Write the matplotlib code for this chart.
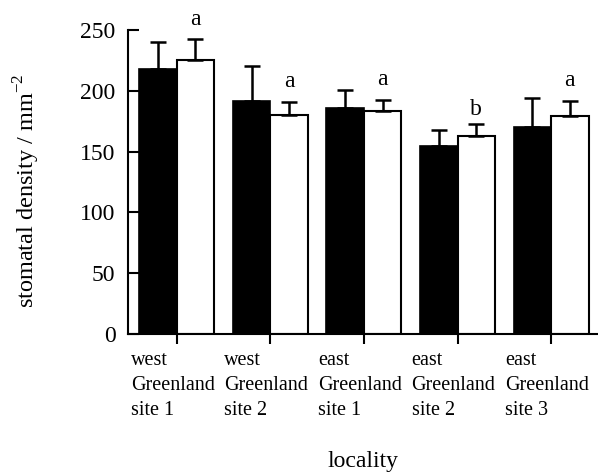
import matplotlib
matplotlib.use("Agg")
import matplotlib.pyplot as plt
import numpy as np
from matplotlib.transforms import ScaledTranslation

plt.rcParams['font.family'] = ['Liberation Serif', 'DejaVu Serif']
plt.rcParams['mathtext.fontset'] = 'custom'
plt.rcParams['mathtext.rm'] = 'Liberation Serif'

categories = ["west\nGreenland\nsite 1", "west\nGreenland\nsite 2",
              "east\nGreenland\nsite 1", "east\nGreenland\nsite 2",
              "east\nGreenland\nsite 3"]
black_vals = [218, 192, 186, 155, 170]
black_err = [22, 28, 15, 13, 24]
white_vals = [225, 180, 183, 163, 179]
white_err = [17.5, 11, 9.5, 10, 13]
letters = ["a", "a", "a", "b", "a"]
yticks = [0, 50, 100, 150, 200, 250]

fig = plt.figure(figsize=(5.98, 4.73), dpi=100)
ax = fig.add_axes([128/598, (473-334)/473, (597-128)/598, (334-30)/473])

x = np.arange(len(categories))
w = 0.40
ax.bar(x - w/2, black_vals, w, color='black', edgecolor='black', linewidth=1.2, zorder=2)
ax.bar(x + w/2, white_vals, w, color='white', edgecolor='black', linewidth=1.5, zorder=2)
ax.errorbar(x - w/2, black_vals, yerr=[np.zeros(len(x)), black_err], fmt='none',
            ecolor='black', elinewidth=1.8, capsize=6, capthick=1.8, zorder=3)
ax.errorbar(x + w/2, white_vals, yerr=[np.zeros(len(x)), white_err], fmt='none',
            ecolor='black', elinewidth=1.8, capsize=6, capthick=1.8, zorder=3)

for xi, v, e, l in zip(x, white_vals, white_err, letters):
    dy = 10.5 if l == "a" else 6.5
    ax.annotate(l, (xi + w/2, v + e), xytext=(0, dy), textcoords='offset points',
                ha='center', va='baseline', fontsize=17, clip_on=False)

ax.set_ylim(0, 250)
ax.set_xlim(-0.52, 4.49)
ax.set_yticks(yticks)
ax.set_xticks(x)
ax.set_xticklabels(categories, fontsize=14.5, linespacing=1.45)
ax.tick_params(axis='y', direction='in', length=8, width=1.5, labelsize=17, pad=9)
ax.tick_params(axis='x', direction='out', length=7, width=1.5, pad=5)
off = ScaledTranslation(-46/100, 0, fig.dpi_scale_trans)
for lab in ax.get_xticklabels():
    lab.set_ha('left')
    lab.set_multialignment('left')
    lab.set_transform(lab.get_transform() + off)

for s in ['top', 'right']:
    ax.spines[s].set_visible(False)
for s in ['left', 'bottom']:
    ax.spines[s].set_linewidth(1.5)

ax.set_ylabel("stomatal density / mm$^{-2}$", fontsize=17.5)
ax.yaxis.set_label_coords(-0.215, 0.47)
ax.yaxis.label.set_va('center')
ax.set_xlabel("locality", fontsize=17)
ax.xaxis.set_label_coords(0.5, -0.42)
ax.xaxis.label.set_va('center')

fig.savefig("out.png", dpi=100)
